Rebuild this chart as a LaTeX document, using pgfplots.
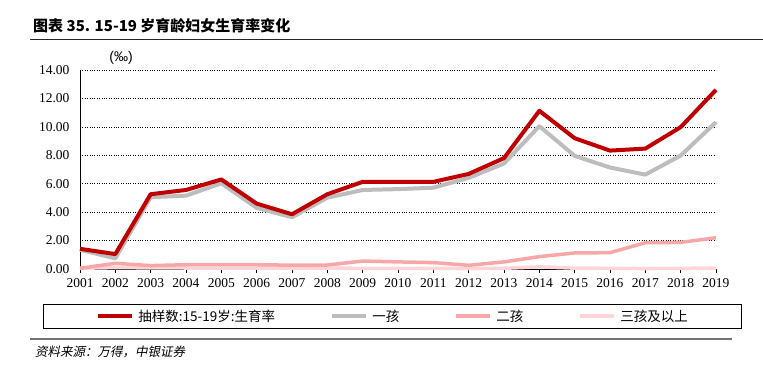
\documentclass[border=0pt]{standalone}
\usepackage{pgfplots}
\pgfplotsset{compat=1.18}
\usepackage{fontspec}
\setmainfont{Liberation Serif}
\newfontfamily\cjk{Noto Sans CJK SC}
\newfontfamily\cjkit{Noto Sans CJK SC}[FakeSlant=0.2]
\newfontfamily\sans{Liberation Sans}
\definecolor{cred}{HTML}{C00000}
\definecolor{cgrey}{HTML}{BDBDBD}
\definecolor{cpink}{HTML}{F7A7A7}
\definecolor{clpink}{HTML}{FFD5D9}

\pgfplotstableread{
year total first second third
2001 1.42 1.35 0.05 0.05
2002 1.05 0.75 0.40 0.10
2003 5.26 5.05 0.24 0.08
2004 5.56 5.16 0.30 0.07
2005 6.30 6.03 0.30 0.06
2006 4.60 4.30 0.30 0.06
2007 3.85 3.64 0.27 0.05
2008 5.26 5.02 0.28 0.06
2009 6.13 5.56 0.56 0.05
2010 6.13 5.62 0.50 0.05
2011 6.13 5.72 0.45 0.05
2012 6.69 6.41 0.26 0.03
2013 7.80 7.42 0.50 0.05
2014 11.13 10.05 0.87 0.15
2015 9.20 7.96 1.13 0.06
2016 8.33 7.14 1.15 0.05
2017 8.47 6.64 1.85 0.03
2018 9.98 7.98 1.87 0.05
2019 12.60 10.33 2.20 0.06
}\datatable

\begin{document}
\begin{tikzpicture}[x=1pt,y=1pt]
\path[use as bounding box] (0,0) rectangle (763,368);
\node[anchor=base west, inner sep=0, font=\cjk\bfseries\fontsize{15}{18}\selectfont] at (33,337) {图表 35. 15-19 岁育龄妇女生育率变化};
\draw[line width=1pt, black!85] (30,329) -- (763,329);
\begin{axis}[
  at={(80pt,99pt)}, anchor=south west,
  scale only axis, width=636pt, height=199pt,
  xmin=2001, xmax=2019, ymin=0, ymax=14,
  xtick={2001,2002,...,2019}, ytick={0,2,...,14},
  axis x line*=bottom, axis y line*=left,
  axis line style={black, line width=0.8pt},
  tick label style={font=\fontsize{13.5}{15}\selectfont},
  x tick label style={yshift=-2pt, /pgf/number format/1000 sep={}},
  y tick label style={xshift=-7pt, /pgf/number format/.cd, fixed, fixed zerofill, precision=2},
  /pgf/number format/assume math mode=true,
  ymajorgrids, grid style={black, dotted, line width=0.6pt},
  xtick align=outside, major tick length=4pt,
  ytick style={draw=none},
  x tick style={black, line width=0.6pt},
  clip=false,
  legend columns=4,
  legend style={at={(axis description cs:-0.0582,-0.176)}, anchor=north west,
    draw=black, line width=0.8pt, inner xsep=53pt, inner ysep=4pt,
    column sep=0pt, font=\cjk\fontsize{13.5}{15}\selectfont,
    nodes={inner xsep=4pt, inner ysep=1.5pt}},
  legend image code/.code={\draw[#1] (0pt,0pt) -- (34pt,0pt);},
  legend cell align=left,
]
\addlegendimage{cred, line width=4pt}
\addlegendentry{\makebox[188pt][l]{抽样数:15-19岁:生育率}}
\addlegendimage{cgrey, line width=4pt}
\addlegendentry{\makebox[78pt][l]{一孩}}
\addlegendimage{cpink, line width=4pt}
\addlegendentry{\makebox[78pt][l]{二孩}}
\addlegendimage{clpink, line width=4pt}
\addlegendentry{\makebox[64pt][l]{三孩及以上}}
\addplot[clpink, line width=3.5pt, line join=round, forget plot] table[x=year, y=third] {\datatable};
\addplot[cpink, line width=3.5pt, line join=round, forget plot] table[x=year, y=second] {\datatable};
\addplot[cgrey, line width=4pt, line join=round, forget plot] table[x=year, y=first] {\datatable};
\addplot[cred, line width=4pt, line join=round, forget plot] table[x=year, y=total] {\datatable};
\end{axis}
\node[font=\sans\fontsize{14}{16}\selectfont] at (121,310) {(‰)};
\draw[line width=1.8pt, black!55] (30,29) -- (732,29);
\node[anchor=west, inner sep=0, font=\cjkit\fontsize{12.5}{14}\selectfont] at (35,16) {资料来源：万得，中银证券};
\end{tikzpicture}
\end{document}
